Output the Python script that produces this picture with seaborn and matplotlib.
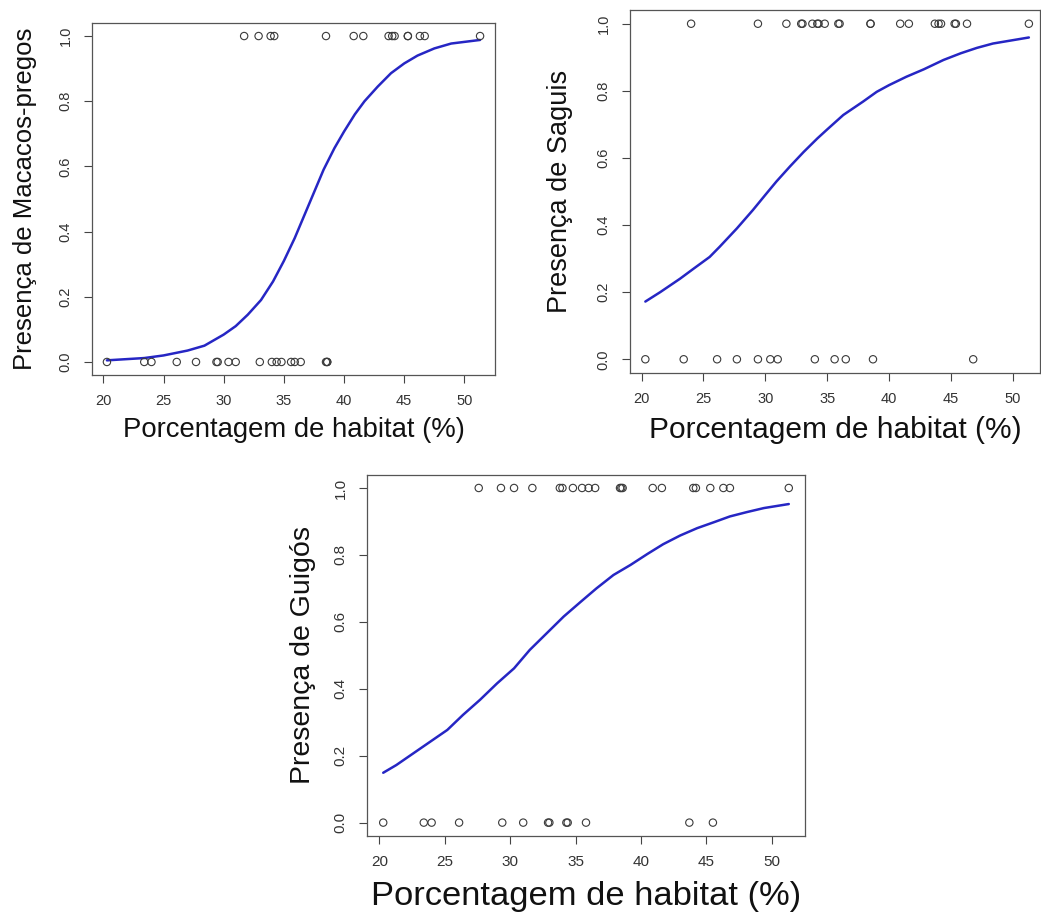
import matplotlib
matplotlib.use("Agg")
import matplotlib.pyplot as plt
import seaborn as sns
import pandas as pd

# ---------------- data ----------------
xticks = [20, 25, 30, 35, 40, 45, 50]
yticks = [0.0, 0.2, 0.4, 0.6, 0.8, 1.0]
xlabel = "Porcentagem de habitat (%)"

# Panel 1 - Macacos-pregos
p1_pres = [31.7, 32.9, 33.9, 34.2, 38.5, 40.8, 41.6, 43.7, 44.0, 44.2, 45.3, 45.3, 46.3, 46.7, 51.3]
p1_abs = [20.3, 23.4, 24.0, 26.1, 27.7, 29.4, 29.5, 30.4, 31.0, 33.0, 34.0, 34.4, 34.8,
          35.6, 35.9, 36.4, 38.5, 38.6, 38.6]
c1_x = [20.3, 23.4, 25.0, 27.0, 28.4, 30.0, 31.0, 32.0, 33.1, 34.1, 35.0, 35.9, 36.7, 37.5,
        38.3, 39.2, 40.0, 40.9, 41.7, 42.8, 43.9, 45.0, 46.1, 47.5, 48.9, 51.3]
c1_y = [0.005, 0.012, 0.02, 0.035, 0.05, 0.084, 0.11, 0.145, 0.19, 0.247, 0.31, 0.38, 0.45, 0.52,
        0.59, 0.656, 0.707, 0.76, 0.80, 0.845, 0.886, 0.916, 0.94, 0.962, 0.977, 0.988]

# Panel 2 - Saguis
p2_pres = [24.0, 29.4, 31.7, 32.9, 33.0, 33.8, 34.2, 34.3, 34.8, 35.9, 36.0, 38.5, 38.5,
           40.9, 41.6, 43.7, 44.0, 44.2, 45.3, 45.4, 46.3, 51.3]
p2_abs = [20.3, 23.4, 26.1, 27.7, 29.4, 30.4, 31.0, 34.0, 35.6, 36.5, 38.7, 46.8]
c2_x = [20.3, 21.5, 23.1, 24.2, 25.5, 26.3, 27.7, 29.0, 30.0, 30.9, 32.0, 33.1, 34.2, 35.0,
        36.3, 37.9, 39.0, 40.0, 41.4, 42.8, 44.4, 45.8, 47.1, 48.4, 51.3]
c2_y = [0.172, 0.20, 0.24, 0.27, 0.305, 0.335, 0.39, 0.445, 0.49, 0.53, 0.575, 0.618, 0.658, 0.685,
        0.728, 0.768, 0.797, 0.817, 0.842, 0.864, 0.892, 0.912, 0.928, 0.941, 0.959]

# Panel 3 - Guigós
p3_pres = [27.6, 29.3, 30.3, 31.7, 33.8, 34.0, 34.8, 35.5, 36.0, 36.5, 38.4, 38.5, 38.6,
           40.9, 41.6, 44.0, 44.2, 45.3, 46.3, 46.8, 51.3]
p3_abs = [20.3, 23.4, 24.0, 26.1, 29.4, 31.0, 32.9, 33.0, 34.3, 34.4, 35.8, 43.7, 45.5]
c3_x = [20.3, 21.3, 22.6, 23.9, 25.2, 26.4, 27.7, 29.0, 30.3, 31.5, 32.8, 34.1, 35.4, 36.6,
        37.9, 39.2, 40.5, 41.7, 43.0, 44.3, 45.6, 46.8, 48.1, 49.4, 51.3]
c3_y = [0.149, 0.172, 0.207, 0.242, 0.277, 0.322, 0.367, 0.416, 0.461, 0.516, 0.566, 0.616, 0.66, 0.70,
        0.74, 0.77, 0.803, 0.832, 0.858, 0.88, 0.898, 0.915, 0.928, 0.94, 0.952]

# ---------------- style ----------------
sns.set_theme(style="white")
plt.rcParams["font.family"] = ["Liberation Sans", "DejaVu Sans"]

W, H = 1041, 918
fig = plt.figure(figsize=(W / 100, H / 100), dpi=100)
fig.patch.set_facecolor("white")

panels = [
    # pres, abs, curve x, curve y, ylabel, box(l,r,t,b), xlim right,
    # xlabel fs, ylabel fs, tick fs, xlabel y-centre, ylabel x-centre
    (p1_pres, p1_abs, c1_x, c1_y, "Presença de Macacos-pregos", (92, 495, 23, 375), 52.54,
     19.8, 18.5, 10.5, 430, 25),
    (p2_pres, p2_abs, c2_x, c2_y, "Presença de Saguis", (630, 1040, 10.3, 372.7), 52.2,
     21.5, 19.5, 10.5, 430, 560),
    (p3_pres, p3_abs, c3_x, c3_y, "Presença de Guigós", (367, 805, 474.6, 836), 52.54,
     24.8, 20.5, 11.0, 896, 303),
]

for pres, ab, cx, cy, ylab, (l, r, t, b), xr, xfs, yfs, tfs, xly, ylx in panels:
    ax = fig.add_axes([l / W, 1 - b / H, (r - l) / W, (b - t) / H])
    pts = pd.DataFrame({"x": list(pres) + list(ab),
                        "y": [1.0] * len(pres) + [0.0] * len(ab)})
    sns.scatterplot(data=pts, x="x", y="y", ax=ax, marker="o", s=28,
                    facecolors="none", edgecolor="#3a3a3a", linewidth=0.8, zorder=3)
    sns.lineplot(x=cx, y=cy, ax=ax, color="#2626c4", linewidth=1.8,
                 sort=False, estimator=None, zorder=2)
    ax.set_xlim(19.06, xr)
    ax.set_ylim(-0.04, 1.04)
    ax.set_xticks(xticks)
    ax.set_xticklabels([str(v) for v in xticks])
    ax.set_yticks(yticks)
    ax.set_yticklabels([f"{v:.1f}" for v in yticks], rotation=90, va="center")
    ax.tick_params(axis="both", direction="out", length=5.8, width=0.8,
                   color="#444444", labelcolor="#333333", labelsize=tfs, pad=8.0,
                   bottom=True, left=True)
    for sp in ax.spines.values():
        sp.set_visible(True)
        sp.set_color("#555555")
        sp.set_linewidth(0.9)
    ax.grid(False)
    ax.set_facecolor("white")
    ax.set_xlabel(xlabel, fontsize=xfs, color="#111111")
    ax.set_ylabel(ylab, fontsize=yfs, color="#111111")
    ax.xaxis.label.set_va("center")
    ax.yaxis.label.set_va("center")
    ax.xaxis.set_label_coords(0.5, (b - xly) / (b - t))
    ax.yaxis.set_label_coords((ylx - l) / (r - l), 0.5)

fig.savefig("out.png", dpi=100, facecolor="white")
